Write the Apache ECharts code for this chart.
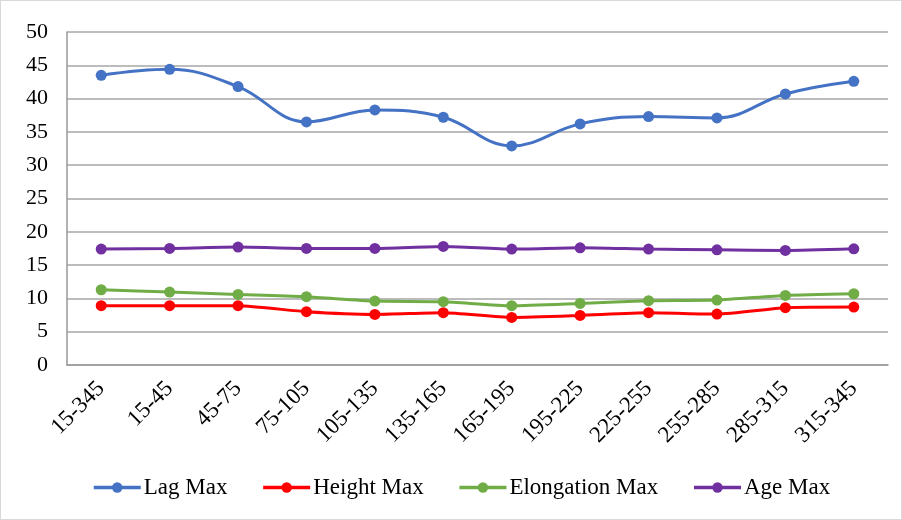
<!DOCTYPE html>
<html>
<head>
<meta charset="utf-8">
<script src="https://cdn.jsdelivr.net/npm/echarts@6/dist/echarts.min.js"></script>
<style>
  html, body { margin: 0; padding: 0; background: #fff; }
  #chart { width: 900px; height: 518px; border: 1px solid #d9d9d9; }
</style>
</head>
<body>
<div id="chart"></div>
<script>
// Direction bins (degrees)
const categories = ['15-345', '15-45', '45-75', '75-105', '105-135', '135-165',
  '165-195', '195-225', '225-255', '255-285', '285-315', '315-345'];

const lagMax        = [43.5, 44.4, 41.8, 36.5, 38.3, 37.2, 32.9, 36.2, 37.3, 37.1, 40.7, 42.6];
const heightMax     = [8.9, 8.9, 8.9, 8.0, 7.6, 7.85, 7.15, 7.45, 7.85, 7.65, 8.6, 8.7];
const elongationMax = [11.3, 10.95, 10.6, 10.25, 9.6, 9.5, 8.9, 9.25, 9.65, 9.75, 10.45, 10.7];
const ageMax        = [17.4, 17.5, 17.7, 17.5, 17.5, 17.8, 17.4, 17.6, 17.4, 17.3, 17.2, 17.45];

const yTicks = { min: 0, max: 50, interval: 5 };

const font = '"Liberation Serif", "Times New Roman", serif';

function line(name, data, color, smooth) {
  return {
    name, type: 'line', data,
    smooth,
    symbol: 'circle', symbolSize: 11,
    lineStyle: { width: 3, color },
    itemStyle: { color },
    z: 3
  };
}

const chart = echarts.init(document.getElementById('chart'));
chart.setOption({
  animation: false,
  textStyle: { fontFamily: font },
  grid: { left: 66, right: 13, top: 31, bottom: 154 },
  legend: {
    bottom: 15,
    left: 86,
    itemWidth: 47, itemHeight: 13, itemGap: 34,
    lineStyle: { width: 3.5 },
    textStyle: { fontFamily: font, fontSize: 23, color: '#000', padding: [0, 0, 0, -2] }
  },
  xAxis: {
    type: 'category',
    data: categories,
    boundaryGap: true,
    axisLine: { lineStyle: { color: '#999', width: 1.5 } },
    axisTick: { show: false },
    axisLabel: { rotate: 45, fontFamily: font, fontSize: 23, color: '#000', margin: 20, interval: 0 }
  },
  yAxis: {
    type: 'value',
    min: yTicks.min, max: yTicks.max, interval: yTicks.interval,
    axisLine: { show: true, lineStyle: { color: '#999', width: 1.5 } },
    axisTick: { show: false },
    splitLine: { lineStyle: { color: '#a6a6a6', width: 1.5 } },
    axisLabel: { fontFamily: font, fontSize: 22, color: '#000', margin: 19 }
  },
  series: [
    line('Lag Max', lagMax, '#4472C4', 0.4),
    line('Height Max', heightMax, '#FF0000', 0.2),
    line('Elongation Max', elongationMax, '#70AD47', 0.2),
    line('Age Max', ageMax, '#7030A0', 0.2)
  ]
});
</script>
</body>
</html>
